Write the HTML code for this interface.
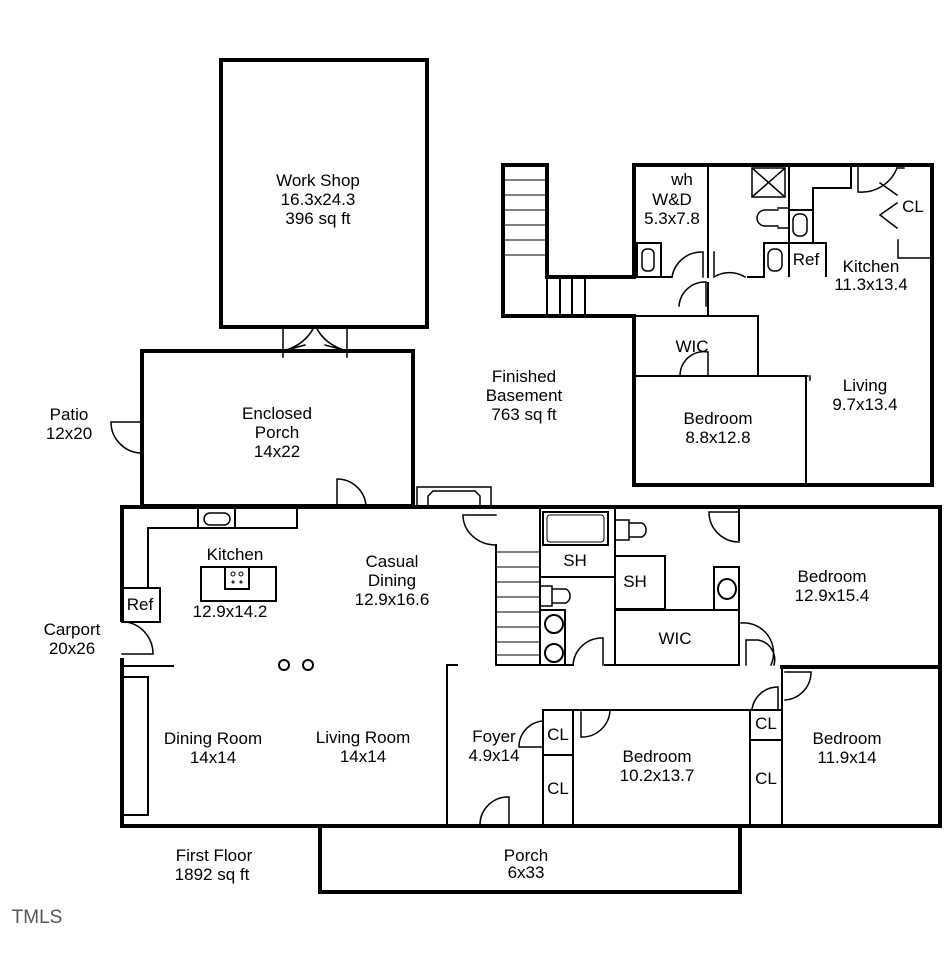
<!DOCTYPE html>
<html><head><meta charset="utf-8"><style>
html,body{margin:0;padding:0;background:#fff;}
svg{display:block}
text{font-family:"Liberation Sans",sans-serif;font-size:17px;fill:#000;text-anchor:middle}
</style></head><body>
<svg width="944" height="958" viewBox="0 0 944 958" xmlns="http://www.w3.org/2000/svg">
<g fill="none" stroke="#000" stroke-linecap="square">
<rect x="221" y="60" width="206" height="267" stroke-width="4"/>
<g stroke-width="1.5">
<path d="M283 327 V357 M347 327 V357 M283 351 Q305 345 314 327 M347 351 Q325 345 316 327 M283 351 L305 345 M347 351 L325 345"/>
</g>
<rect x="142" y="351" width="271" height="155" stroke-width="4"/>
<path stroke-width="1.5" d="M142 422 H111 A31 31 0 0 0 142 453 M337 479 V506 M337 479 A29 29 0 0 1 366 506"/>
<rect x="417" y="487" width="74" height="20" stroke-width="1.5"/>
<path stroke-width="1.5" d="M428 506 V496 L433 491 H475 L480 496 V506"/>
<path stroke-width="4" d="M122 620 V507 H940 V826 H122 V660"/>
<path stroke-width="1.5" d="M122 622 H126 A32 32 0 0 1 153 654 H122"/>
<path stroke-width="2" d="M148 588 V528 H297 V510 M198 510 V528 M235 510 V528"/>
<rect x="204" y="513" width="26" height="12" rx="6" stroke-width="1.5"/>
<rect x="122" y="588" width="38" height="34" stroke-width="2"/>
<rect x="201" y="567" width="75" height="34" stroke-width="2"/>
<rect x="225" y="567" width="24" height="22" stroke-width="2"/>
<g stroke-width="1"><circle cx="233" cy="574" r="2"/><circle cx="241" cy="574" r="2"/><circle cx="233" cy="582" r="1"/><circle cx="241" cy="582" r="1"/></g>
<path stroke-width="2" d="M122 666 H173"/>
<rect x="123" y="677" width="25" height="138" stroke-width="2"/>
<circle cx="284" cy="665" r="5" stroke-width="2"/><circle cx="308" cy="665" r="5" stroke-width="2"/>
<path stroke-width="2" d="M457 665 H447 V826"/>
<path stroke-width="2" d="M496 545 V665 M540 510 V665 M615 510 V665 M496 665 H573 M605 665 H739 M739 510 V540 M739 612 V665"/>
<path stroke-width="1" d="M496 552 H540 M496 567 H540 M496 582 H540 M496 597 H540 M496 612 H540 M496 627 H540 M496 642 H540 M496 655 H540"/>
<path stroke-width="1.5" d="M463 515 H496 M463 515 A33 30 0 0 0 496 545"/>
<rect x="543" y="512" width="65" height="33" stroke-width="2"/>
<rect x="547" y="515" width="57" height="27" rx="3" stroke-width="1"/>
<path stroke-width="2" d="M540 577 H615"/>
<rect x="615" y="556" width="50" height="53" stroke-width="2"/>
<path stroke-width="2" d="M615 610 H739"/>
<rect x="540" y="610" width="25" height="55" stroke-width="2"/>
<ellipse cx="554" cy="624" rx="9" ry="9" stroke-width="2"/><ellipse cx="554" cy="653" rx="9" ry="9" stroke-width="2"/>
<path stroke-width="1.5" d="M540 586 H552 V606 H540 M552 589 H566 A8 8 0 0 1 566 603 H552"/>
<path stroke-width="1.5" d="M615 520 H629 V540 H615 M629 523 H642 A8 8 0 0 1 642 537 H629"/>
<rect x="714" y="567" width="25" height="43" stroke-width="2"/>
<ellipse cx="727" cy="589" rx="9" ry="10" stroke-width="2"/>
<path stroke-width="1.5" d="M573 665 A29 29 0 0 1 603 638 V665 M739 512 H709 A30 30 0 0 0 739 542"/>
<path stroke-width="1.5" d="M741 623 A30 30 0 0 1 771 665 M746 640 H758 A20 20 0 0 1 774 665 M746 640 V665"/>
<path stroke-width="4" d="M782 667 H940"/>
<path stroke-width="2" d="M782 666 V826"/>
<path stroke-width="1.5" d="M785 672 H811 A28 28 0 0 1 785 700 M752 709 A26 26 0 0 1 778 687 V709"/>
<path stroke-width="2" d="M750 710 V826 M750 710 H782 M750 740 H782"/>
<path stroke-width="2" d="M543 710 H750 M543 710 V826 M573 710 V826 M543 755 H573"/>
<path stroke-width="1.5" d="M581 712 V737 A28 28 0 0 0 610 710 M543 747 H519 A26 26 0 0 1 543 721 M480 826 A28 28 0 0 1 509 797 V826"/>
<path stroke-width="4" d="M320 826 V892 H740 V826"/>
<path stroke-width="4" d="M503 165 H547 V277 H634 V165 H932 V485 H634 V316 H503 Z"/>
<path stroke-width="2" d="M547 277 V316 M560 277 V316 M572 277 V316 M585 277 V316"/>
<path stroke-width="1" d="M503 180 H547 M503 195 H547 M503 210 H547 M503 225 H547 M503 240 H547 M503 255 H547"/>
<path stroke-width="2" d="M708 165 V277 M708 283 V316 M634 277 H672 M748 277 H764 M634 316 H758 V376 M634 376 H806 V485"/>
<path stroke-width="1.5" d="M672 277 A30 30 0 0 1 703 252 V277 M714 252 V277 A30 30 0 0 1 745 277 M679 306 A26 26 0 0 1 706 282 V306 M680 376 A24 24 0 0 1 708 352 V376 M764 376 H808 M810 376 V380"/>
<rect x="637" y="243" width="24" height="34" stroke-width="2"/>
<rect x="642" y="249" width="12" height="22" rx="5" stroke-width="1.5"/>
<path stroke-width="2" d="M789 165 V276 M813 243 V188 H851 V165 M764 243 H826 V276 M764 243 V276 M789 210 H813"/>
<rect x="768" y="249" width="14" height="22" rx="6" stroke-width="1.5"/>
<rect x="793" y="214" width="14" height="22" rx="6" stroke-width="1.5"/>
<path stroke-width="1.5" d="M752 168 H785 V197 H752 Z M752 168 L785 197 M785 168 L752 197"/>
<path stroke-width="1.5" d="M778 208 H789 V228 H778 M778 210 H765 A8 8 0 0 0 765 226 H778"/>
<path stroke-width="1.5" d="M858 165 V192 A38 38 0 0 0 897 168 M880 183 L897 195 M880 215 L897 203 M880 215 L897 228 M898 240 V258 H932 M897 168 H904"/>
</g>
<text x="318" y="186">Work Shop</text><text x="318" y="205">16.3x24.3</text><text x="318" y="224">396 sq ft</text>
<text x="277" y="419">Enclosed</text><text x="277" y="438">Porch</text><text x="277" y="457">14x22</text>
<text x="69" y="420">Patio</text><text x="69" y="439">12x20</text>
<text x="524" y="382">Finished</text><text x="524" y="401">Basement</text><text x="524" y="420">763 sq ft</text>
<text x="682" y="185">wh</text><text x="672" y="205">W&amp;D</text><text x="672" y="224">5.3x7.8</text>
<text x="913" y="212">CL</text>
<text x="806" y="265">Ref</text>
<text x="871" y="272">Kitchen</text><text x="871" y="290">11.3x13.4</text>
<text x="692" y="352">WIC</text>
<text x="865" y="391">Living</text><text x="865" y="410">9.7x13.4</text>
<text x="718" y="424">Bedroom</text><text x="718" y="443">8.8x12.8</text>
<text x="235" y="560">Kitchen</text><text x="230" y="617">12.9x14.2</text>
<text x="392" y="567">Casual</text><text x="392" y="586">Dining</text><text x="392" y="605">12.9x16.6</text>
<text x="140" y="610">Ref</text>
<text x="72" y="635">Carport</text><text x="72" y="654">20x26</text>
<text x="575" y="566">SH</text><text x="635" y="587">SH</text>
<text x="675" y="644">WIC</text>
<text x="832" y="582">Bedroom</text><text x="832" y="601">12.9x15.4</text>
<text x="213" y="744">Dining Room</text><text x="213" y="763">14x14</text>
<text x="363" y="743">Living Room</text><text x="363" y="762">14x14</text>
<text x="494" y="742">Foyer</text><text x="494" y="761">4.9x14</text>
<text x="558" y="740">CL</text><text x="558" y="794">CL</text>
<text x="657" y="762">Bedroom</text><text x="657" y="781">10.2x13.7</text>
<text x="766" y="729">CL</text><text x="766" y="784">CL</text>
<text x="847" y="744">Bedroom</text><text x="847" y="763">11.9x14</text>
<text x="214" y="861">First Floor</text><text x="212" y="880">1892 sq ft</text>
<text x="526" y="861">Porch</text><text x="526" y="878">6x33</text>
<text x="37" y="923" style="font-size:19px;fill:#555;font-weight:100">TMLS</text>
</svg>
</body></html>
